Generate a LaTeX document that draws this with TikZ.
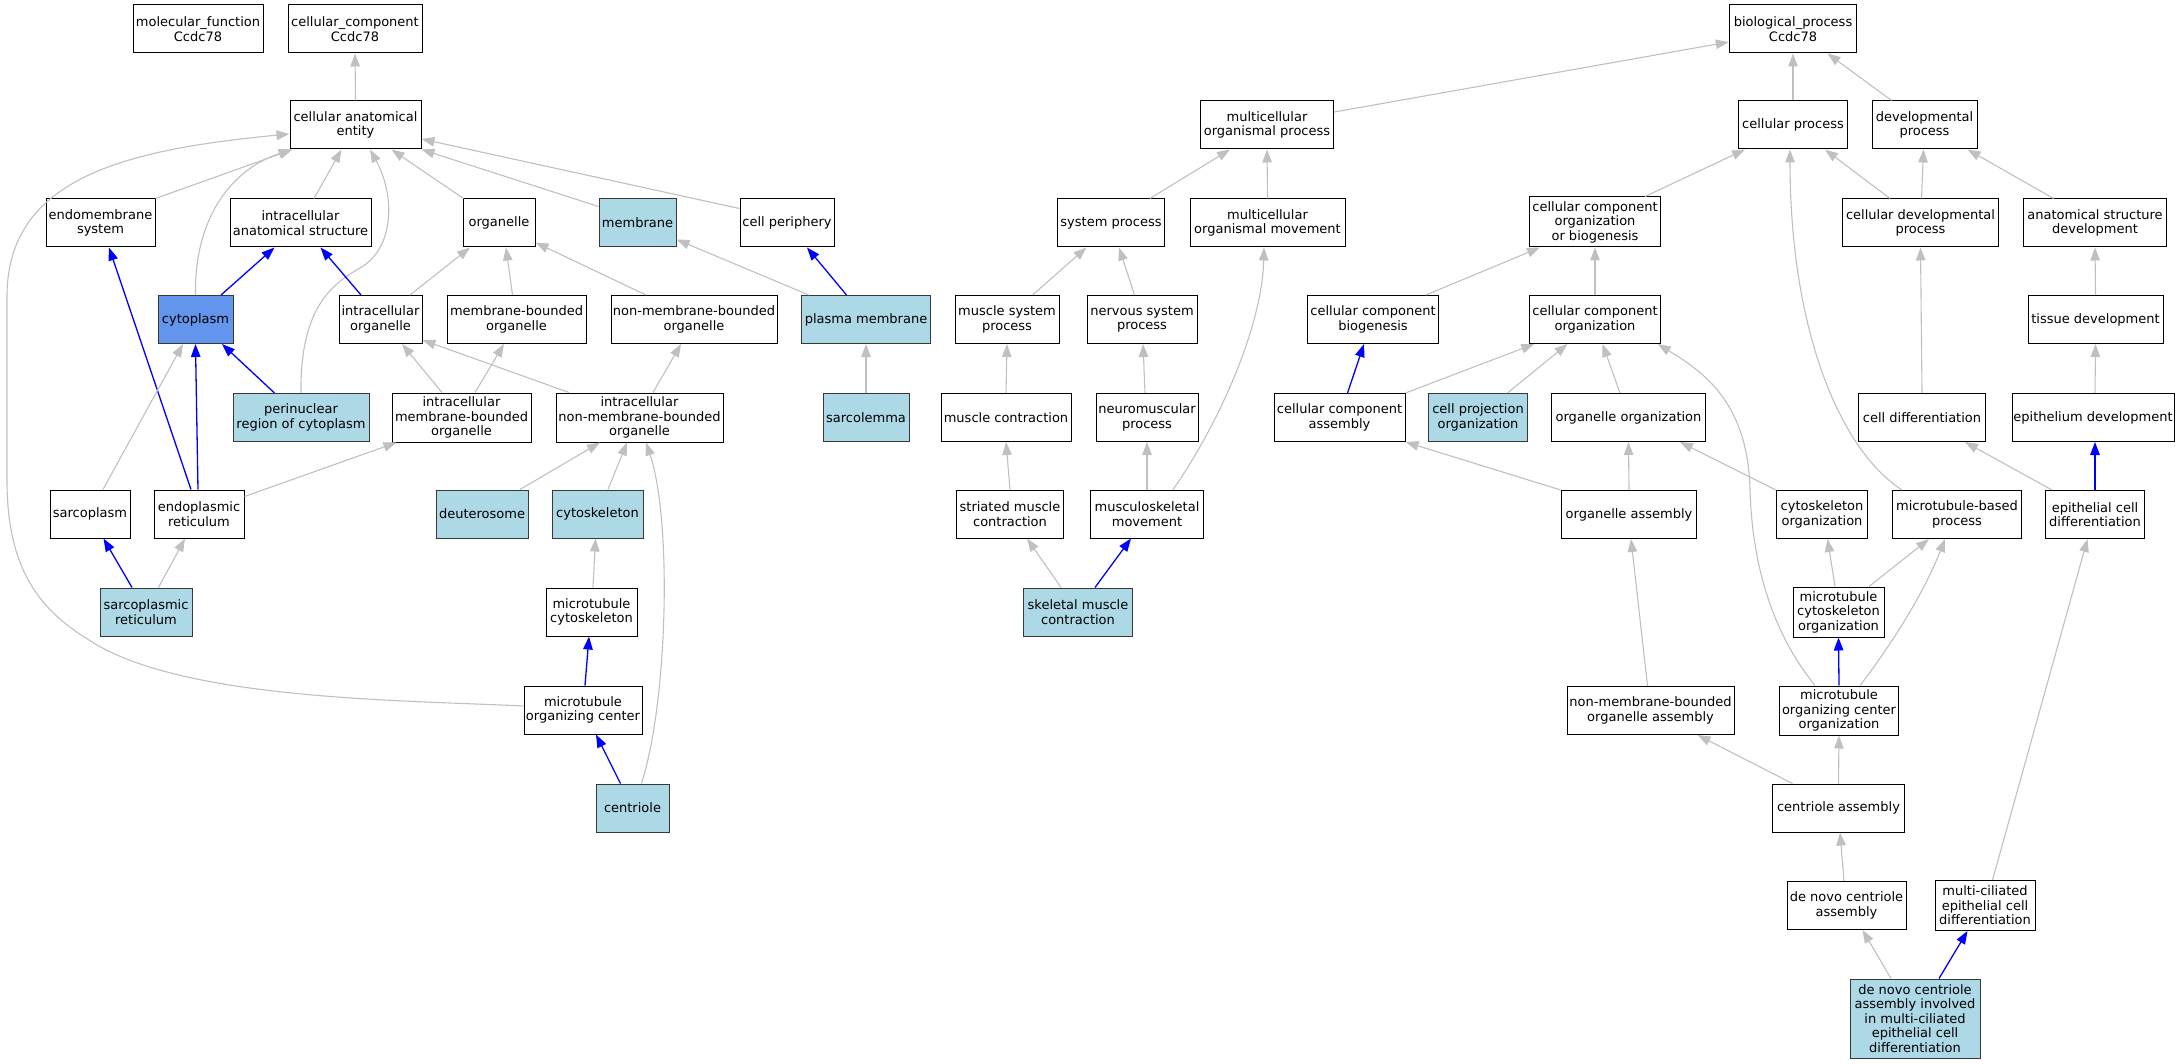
\documentclass[tikz,border=0pt]{standalone}
\usepackage{fontspec}
\setmainfont{DejaVu Sans}
\usetikzlibrary{arrows.meta,calc}
\definecolor{lb}{HTML}{ADD8E6}
\definecolor{cfb}{HTML}{6495ED}
\definecolor{eg}{HTML}{C0C0C0}
\definecolor{eb}{HTML}{0000FF}
\definecolor{hb}{HTML}{383838}
\tikzset{
  gobox/.style={draw=black, fill=white, line width=1pt, inner sep=0pt, align=center,
    minimum height=48pt, font=\fontsize{13}{14.5}\selectfont},
  hl/.style={gobox, fill=lb, draw=hb},
  isa/.style={draw=eg, line width=1.1pt, -{Triangle[length=13pt,width=9.5pt]}},
  po/.style={draw=eb, line width=1.3pt, -{Triangle[length=13pt,width=9.5pt]}}
}
\begin{document}
\begin{tikzpicture}[x=1pt,y=-1pt]
\useasboundingbox (0,0) rectangle (2178,1064);
% ---------- cellular component ----------
\node[gobox, minimum width=130pt] (mf) at (198,29) {molecular\_function\\Ccdc78};
\node[gobox, minimum width=134pt] (cc) at (355,29) {cellular\_component\\Ccdc78};
\node[gobox, minimum width=131pt] (cae) at (355.5,125) {cellular anatomical\\entity};
\node[gobox, minimum width=109pt] (ems) at (100.5,223) {endomembrane\\system};
\node[gobox, minimum width=141pt] (ias) at (300.5,223) {intracellular\\anatomical structure};
\node[gobox, minimum width=72pt] (org) at (499,223) {organelle};
\node[hl, minimum width=77pt] (mem) at (637.5,223) {membrane};
\node[gobox, fill=cfb, draw=hb, minimum width=75pt] (cyt) at (195.5,319.5) {cytoplasm};
\node[gobox, minimum width=83pt] (io) at (380.5,319.5) {intracellular\\organelle};
\node[gobox, minimum width=139pt] (mbo) at (516.5,319.5) {membrane-bounded\\organelle};
\node[gobox, minimum width=166pt] (nmbo) at (694,319.5) {non-membrane-bounded\\organelle};
\node[hl, minimum width=136pt] (pnr) at (301,417.5) {perinuclear\\region of cytoplasm};
\node[gobox, minimum width=139pt, minimum height=49pt] (imbo) at (461.5,417.5) {intracellular\\membrane-bounded\\organelle};
\node[gobox, minimum width=167pt, minimum height=49pt] (inmbo) at (639.5,417.5) {intracellular\\non-membrane-bounded\\organelle};
\node[gobox, minimum width=80pt] (spl) at (90,514) {sarcoplasm};
\node[gobox, minimum width=90pt] (er) at (199,514) {endoplasmic\\reticulum};
\node[hl, minimum width=92pt] (deu) at (482,514) {deuterosome};
\node[hl, minimum width=91pt] (csk) at (597.5,514) {cytoskeleton};
\node[hl, minimum width=92pt] (sr) at (146,612) {sarcoplasmic\\reticulum};
\node[gobox, minimum width=91pt] (mtc) at (591.5,612) {microtubule\\cytoskeleton};
\node[gobox, minimum width=118pt] (mtoc) at (583,710) {microtubule\\organizing center};
\node[hl, minimum width=73pt] (cen) at (632.5,808) {centriole};
\node[gobox, minimum width=94pt] (cper) at (787,223) {cell periphery};
\node[hl, minimum width=128.5pt] (pm) at (866,319.5) {plasma membrane};
\node[hl, minimum width=86pt] (scl) at (866,417.5) {sarcolemma};
% ---------- biological process ----------
\node[gobox, minimum width=127.5pt] (bp) at (1793,29) {biological\_process\\Ccdc78};
\node[gobox, minimum width=133.5pt] (mop) at (1267,125) {multicellular\\organismal process};
\node[gobox, minimum width=108.5pt] (cp) at (1793,125) {cellular process};
\node[gobox, minimum width=105pt] (dp) at (1924.5,125) {developmental\\process};
\node[gobox, minimum width=107.5pt] (sp) at (1111,223) {system process};
\node[gobox, minimum width=155pt] (mom) at (1267.5,223) {multicellular\\organismal movement};
\node[gobox, minimum width=131.5pt, minimum height=50pt] (ccob) at (1595,222) {cellular component\\organization\\or biogenesis};
\node[gobox, minimum width=156pt] (cdp) at (1920.5,223) {cellular developmental\\process};
\node[gobox, minimum width=142.5pt] (asd) at (2095,223) {anatomical structure\\development};
\node[gobox, minimum width=104pt] (msp) at (1007,319.5) {muscle system\\process};
\node[gobox, minimum width=110pt] (nsp) at (1142,319.5) {nervous system\\process};
\node[gobox, minimum width=131.5pt] (ccb) at (1373,319.5) {cellular component\\biogenesis};
\node[gobox, minimum width=131.5pt] (cco) at (1595,319.5) {cellular component\\organization};
\node[gobox, minimum width=135pt] (td) at (2095.5,319.5) {tissue development};
\node[gobox, minimum width=130pt] (mc) at (1006,417.5) {muscle contraction};
\node[gobox, minimum width=102pt] (nmp) at (1147,417.5) {neuromuscular\\process};
\node[gobox, minimum width=131pt] (cca) at (1339.5,417.5) {cellular component\\assembly};
\node[hl, minimum width=99.5pt] (cpo) at (1478,417.5) {cell projection\\organization};
\node[gobox, minimum width=153.5pt] (oo) at (1628.5,417.5) {organelle organization};
\node[gobox, minimum width=126.5pt] (cd) at (1922,417.5) {cell differentiation};
\node[gobox, minimum width=162pt] (ed) at (2093,417.5) {epithelium development};
\node[gobox, minimum width=106.5pt] (smc) at (1010,514) {striated muscle\\contraction};
\node[gobox, minimum width=113.5pt] (msm) at (1147,514) {musculoskeletal\\movement};
\node[gobox, minimum width=135.5pt] (oa) at (1629,514.5) {organelle assembly};
\node[gobox, minimum width=91.5pt] (co) at (1822,514.5) {cytoskeleton\\organization};
\node[gobox, minimum width=129pt] (mbp) at (1957,514.5) {microtubule-based\\process};
\node[gobox, minimum width=99pt] (ecd) at (2095,514.5) {epithelial cell\\differentiation};
\node[hl, minimum width=109pt] (skm) at (1078,612) {skeletal muscle\\contraction};
\node[gobox, minimum width=91pt, minimum height=50pt] (mtco) at (1838.5,612) {microtubule\\cytoskeleton\\organization};
\node[gobox, minimum width=167pt] (nmboa) at (1650.5,710.5) {non-membrane-bounded\\organelle assembly};
\node[gobox, minimum width=118.5pt, minimum height=49pt] (mtoco) at (1839,710.5) {microtubule\\organizing center\\organization};
\node[gobox, minimum width=132pt] (ca) at (1838.5,808) {centriole assembly};
\node[gobox, minimum width=119pt] (dnca) at (1846.5,905.5) {de novo centriole\\assembly};
\node[gobox, minimum width=100pt, minimum height=50pt] (mced) at (1985,905.5) {multi-ciliated\\epithelial cell\\differentiation};
\node[hl, minimum width=130pt, minimum height=79pt] (dni) at (1915,1018.5) {de novo centriole\\assembly involved\\in multi-ciliated\\epithelial cell\\differentiation};
% ---------- CC edges ----------
\draw[isa] (cae.north) -- (cc.south);
\draw[isa] (ems.north east) -- ([xshift=3pt]cae.south west);
\draw[isa] (cyt.north) .. controls (194,220) and (230,170) .. ([xshift=2pt]cae.south west);
\draw[isa] ([xshift=13.5pt]ias.north) -- ([xshift=-14pt]cae.south);
\draw[isa] (pnr.north) .. controls (300,310) and (330,285) .. (360,268) .. controls (395,248) and (395,195) .. ([xshift=14.5pt]cae.south);
\draw[isa] ([xshift=1pt]org.north west) -- ([xshift=36pt]cae.south);
\draw[isa] ([yshift=-8pt]mem.north west) -- (cae.south east);
\draw[isa] ([yshift=-10pt]cper.north west) -- ([yshift=-14pt]cae.east);
\draw[isa] ([yshift=4pt]mtoc.west) .. controls (400,700) and (180,700) .. (89,640) .. controls (40,610) and (7,570) .. (7,480) -- (7,300) .. controls (5,180) and (120,150) .. ([yshift=-9pt]cae.west);
\draw[po] ([xshift=25.5pt]cyt.north) -- ([xshift=-26pt]ias.south);
\draw[po] ([xshift=-19.5pt]io.north) -- ([xshift=20pt]ias.south);
\draw[po] ([xshift=-8pt]er.north) -- ([xshift=8.5pt]ems.south);
\draw[po] ([xshift=-1pt]er.north) -- (cyt.south);
\draw[po] ([xshift=-26.5pt]pnr.north) -- ([xshift=26.5pt]cyt.south);
\draw[isa] ([xshift=13pt]spl.north) -- ([xshift=-12.5pt]cyt.south);
\draw[isa] ([xshift=29.5pt]io.north) -- ([xshift=-29pt]org.south);
\draw[isa] ([xshift=-4pt]mbo.north) -- ([xshift=7pt]org.south);
\draw[isa] ([xshift=-48pt]nmbo.north) -- ([yshift=5pt]org.south east);
\draw[isa] ([xshift=7.5pt]pm.north west) -- ([yshift=8pt]mem.south east);
\draw[po] ([xshift=-19.5pt]pm.north) -- ([xshift=20pt]cper.south);
\draw[isa] (scl.north) -- (pm.south);
\draw[isa] ([xshift=-19.5pt]imbo.north) -- ([xshift=21.5pt]io.south);
\draw[isa] ([xshift=13.5pt]imbo.north) -- ([xshift=-12.5pt]mbo.south);
\draw[isa] ([xshift=-70.5pt]inmbo.north) -- ([yshift=4pt]io.south east);
\draw[isa] ([xshift=13.5pt]inmbo.north) -- ([xshift=-13pt]nmbo.south);
\draw[isa] ([yshift=-7pt]er.north east) -- ([xshift=5pt]imbo.south west);
\draw[isa] ([xshift=38pt]deu.north) -- ([xshift=-39.5pt]inmbo.south);
\draw[isa] ([xshift=10.5pt]csk.north) -- ([xshift=-12.5pt]inmbo.south);
\draw[isa] ([xshift=9pt]cen.north) .. controls (668,700) and (672,520) .. ([xshift=6.5pt]inmbo.south);
\draw[po] ([xshift=-14pt]sr.north) -- ([xshift=13.5pt]spl.south);
\draw[isa] ([xshift=12.5pt]sr.north) -- ([xshift=-14pt]er.south);
\draw[isa] ([xshift=1.5pt]mtc.north) -- ([xshift=-2pt]csk.south);
\draw[po] ([xshift=2pt]mtoc.north) -- ([xshift=-2.5pt]mtc.south);
\draw[po] ([xshift=-12pt]cen.north) -- ([xshift=13pt]mtoc.south);
% ---------- BP edges ----------
\draw[isa] ([yshift=13pt]mop.east) -- ([yshift=-13pt]bp.west);
\draw[isa] (cp.north) -- (bp.south);
\draw[isa] ([xshift=-33pt]dp.north) -- ([xshift=34.5pt]bp.south);
\draw[isa] ([xshift=39pt]sp.north) -- ([xshift=-37pt]mop.south);
\draw[isa] (mom.north) -- (mop.south);
\draw[isa] ([xshift=25.5pt]msp.north) -- ([xshift=-24.5pt]sp.south);
\draw[isa] ([xshift=-7.5pt]nsp.north) -- ([xshift=8pt]sp.south);
\draw[isa] (mc.north) -- (msp.south);
\draw[isa] ([xshift=-2pt]nmp.north) -- ([xshift=1pt]nsp.south);
\draw[isa] (smc.north) -- (mc.south);
\draw[isa] (msm.north) -- (nmp.south);
\draw[isa] ([xshift=26pt]msm.north) .. controls (1215,430) and (1262,330) .. ([xshift=-3.5pt]mom.south);
\draw[isa] ([xshift=-17pt]skm.north) -- ([xshift=17pt]smc.south);
\draw[po] ([xshift=17pt]skm.north) -- ([xshift=-16pt]msm.south);
\draw[isa] ([xshift=50pt]ccob.north) -- ([xshift=-48pt]cp.south);
\draw[isa] ([xshift=-30.5pt]cdp.north) -- ([xshift=32pt]cp.south);
\draw[isa] ([xshift=1pt]cdp.north) -- ([xshift=-1pt]dp.south);
\draw[isa] ([xshift=-41.5pt]asd.north) -- ([xshift=43pt]dp.south);
\draw[isa] ([xshift=53pt]ccb.north) -- ([xshift=-55pt]ccob.south);
\draw[isa] (cco.north) -- (ccob.south);
\draw[po] ([xshift=8pt]cca.north) -- ([xshift=-9pt]ccb.south);
\draw[isa] (cca.north east) -- ([xshift=5.5pt]cco.south west);
\draw[isa] ([xshift=29.5pt]cpo.north) -- ([xshift=-27.5pt]cco.south);
\draw[isa] ([xshift=-8.5pt]oo.north) -- ([xshift=7.5pt]cco.south);
\draw[isa] ([xshift=-24pt]mtoco.north) .. controls (1770,630) and (1752,560) .. (1750,490) .. controls (1748,400) and (1700,370) .. ([xshift=-3.5pt]cco.south east);
\draw[isa] (td.north) -- (asd.south);
\draw[isa] (cd.north) -- (cdp.south);
\draw[isa] ([xshift=2pt]ed.north) -- (td.south);
\draw[isa] ([xshift=10pt]mbp.north west) .. controls (1840,450) and (1790,330) .. ([xshift=-3pt]cp.south);
\draw[isa] (oa.north west) -- (cca.south east);
\draw[isa] (oa.north) -- (oo.south);
\draw[isa] (co.north west) -- ([xshift=51.5pt]oo.south);
\draw[isa] ([xshift=7pt]ecd.north west) -- ([xshift=43pt]cd.south);
\draw[po] (ecd.north) -- ([xshift=2pt]ed.south);
\draw[isa] ([xshift=-3.5pt]mtco.north) -- ([xshift=5.5pt]co.south);
\draw[isa] ([xshift=30.5pt]mtco.north) -- ([xshift=-28pt]mbp.south);
\draw[po] (mtoco.north) -- (mtco.south);
\draw[isa] ([xshift=21pt]mtoco.north) .. controls (1895,640) and (1925,590) .. ([xshift=-12pt]mbp.south);
\draw[isa] ([xshift=-3pt]nmboa.north) -- ([xshift=2pt]oa.south);
\draw[isa] ([xshift=-46pt]ca.north) -- ([xshift=47pt]nmboa.south);
\draw[isa] (ca.north) -- (mtoco.south);
\draw[isa] ([xshift=-2.5pt]dnca.north) -- ([xshift=1.5pt]ca.south);
\draw[isa] ([xshift=7.5pt]mced.north) -- ([xshift=-7.5pt]ecd.south);
\draw[isa] ([xshift=-24pt]dni.north) -- ([xshift=16pt]dnca.south);
\draw[po] ([xshift=24pt]dni.north) -- ([xshift=-17.5pt]mced.south);
\end{tikzpicture}
\end{document}
